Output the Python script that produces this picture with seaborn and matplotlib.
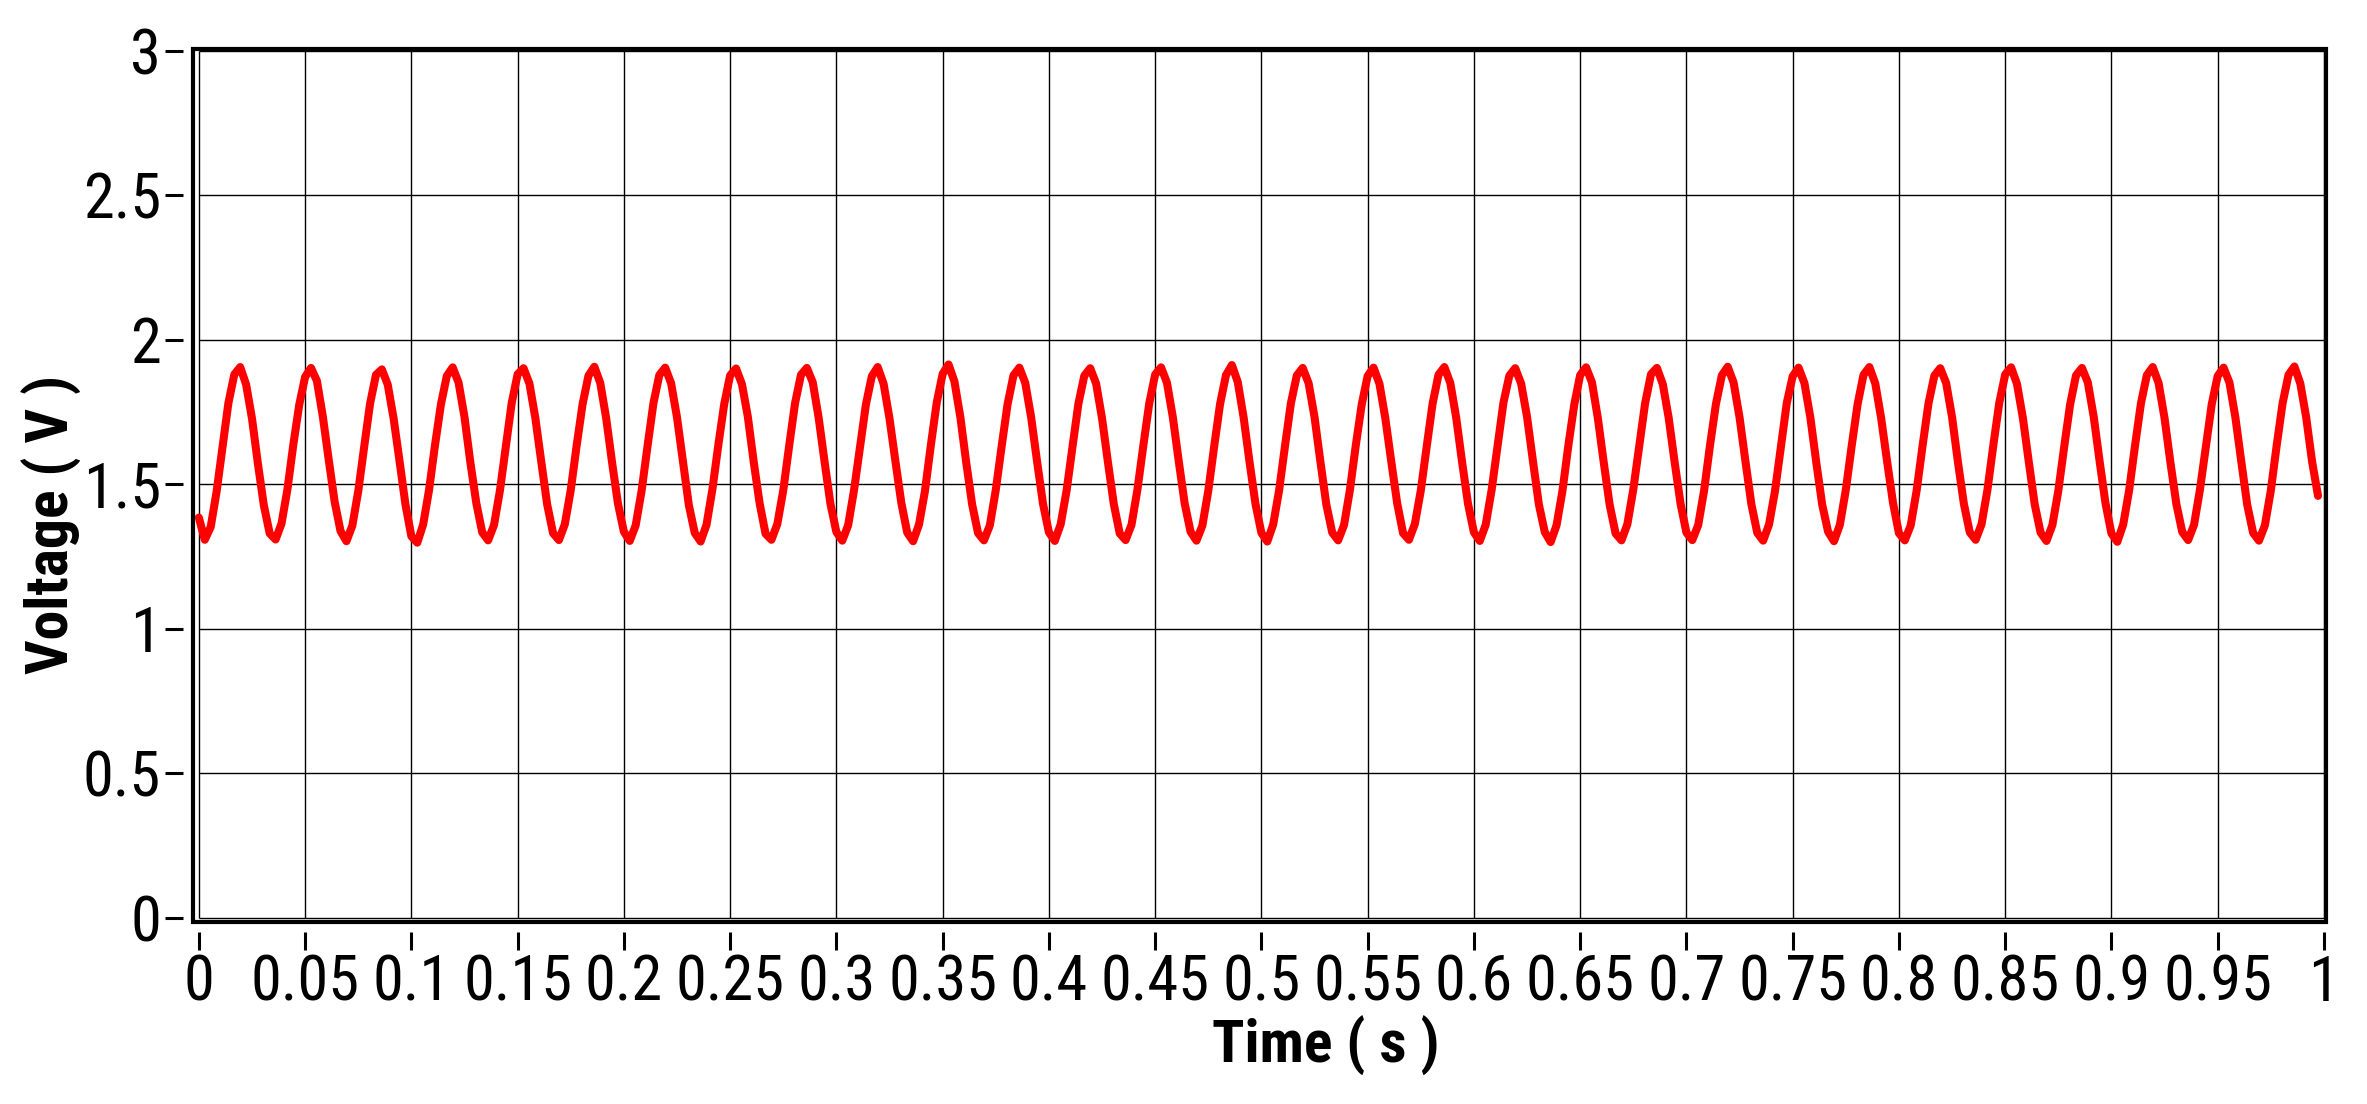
import matplotlib
matplotlib.use("Agg")
import matplotlib.pyplot as plt
from matplotlib import font_manager
from matplotlib.patches import Rectangle
import seaborn as sns
import numpy as np

# sampled voltage trace, 360 samples per second (12 per cycle of the ~30 Hz wave)
sample_rate = 360
voltage = [
    1.385, 1.308, 1.352, 1.474, 1.628, 1.781, 1.880, 1.906, 1.846, 1.728, 1.572, 1.428,
    1.330, 1.309, 1.364, 1.482, 1.637, 1.775, 1.872, 1.903, 1.858, 1.735, 1.585, 1.440,
    1.338, 1.303, 1.357, 1.476, 1.629, 1.779, 1.879, 1.898, 1.845, 1.727, 1.580, 1.430,
    1.320, 1.298, 1.361, 1.481, 1.635, 1.776, 1.875, 1.905, 1.852, 1.733, 1.575, 1.435,
    1.334, 1.306, 1.359, 1.478, 1.630, 1.782, 1.881, 1.902, 1.849, 1.730, 1.579, 1.431,
    1.331, 1.307, 1.362, 1.480, 1.634, 1.777, 1.876, 1.907, 1.851, 1.729, 1.576, 1.433,
    1.336, 1.304, 1.358, 1.477, 1.631, 1.780, 1.878, 1.904, 1.850, 1.732, 1.581, 1.429,
    1.332, 1.302, 1.360, 1.483, 1.636, 1.778, 1.877, 1.901, 1.847, 1.734, 1.577, 1.434,
    1.329, 1.308, 1.363, 1.479, 1.633, 1.781, 1.879, 1.903, 1.853, 1.730, 1.578, 1.432,
    1.335, 1.305, 1.359, 1.481, 1.629, 1.776, 1.874, 1.906, 1.848, 1.728, 1.580, 1.436,
    1.333, 1.303, 1.361, 1.476, 1.635, 1.783, 1.882, 1.915, 1.856, 1.733, 1.575, 1.430,
    1.331, 1.306, 1.358, 1.480, 1.632, 1.777, 1.877, 1.904, 1.851, 1.731, 1.579, 1.433,
    1.334, 1.304, 1.362, 1.478, 1.630, 1.779, 1.876, 1.902, 1.849, 1.729, 1.577, 1.431,
    1.330, 1.307, 1.360, 1.482, 1.634, 1.780, 1.880, 1.905, 1.852, 1.732, 1.580, 1.434,
    1.336, 1.305, 1.357, 1.477, 1.631, 1.778, 1.878, 1.913, 1.854, 1.730, 1.576, 1.432,
    1.332, 1.302, 1.361, 1.479, 1.633, 1.781, 1.877, 1.903, 1.850, 1.733, 1.578, 1.430,
    1.333, 1.306, 1.359, 1.481, 1.636, 1.777, 1.875, 1.904, 1.848, 1.728, 1.579, 1.435,
    1.331, 1.308, 1.363, 1.478, 1.630, 1.779, 1.879, 1.906, 1.851, 1.731, 1.577, 1.433,
    1.334, 1.304, 1.360, 1.480, 1.632, 1.782, 1.876, 1.902, 1.849, 1.734, 1.581, 1.431,
    1.335, 1.300, 1.358, 1.477, 1.634, 1.776, 1.878, 1.905, 1.853, 1.729, 1.575, 1.429,
    1.330, 1.306, 1.362, 1.482, 1.631, 1.780, 1.881, 1.903, 1.847, 1.730, 1.578, 1.434,
    1.333, 1.307, 1.359, 1.479, 1.635, 1.778, 1.877, 1.907, 1.852, 1.732, 1.580, 1.432,
    1.332, 1.305, 1.361, 1.476, 1.629, 1.781, 1.874, 1.904, 1.850, 1.731, 1.576, 1.430,
    1.336, 1.303, 1.360, 1.480, 1.633, 1.777, 1.879, 1.906, 1.849, 1.728, 1.579, 1.436,
    1.331, 1.306, 1.358, 1.478, 1.632, 1.779, 1.876, 1.902, 1.851, 1.733, 1.577, 1.433,
    1.334, 1.308, 1.362, 1.481, 1.636, 1.782, 1.880, 1.905, 1.848, 1.730, 1.578, 1.431,
    1.333, 1.304, 1.359, 1.477, 1.630, 1.776, 1.877, 1.903, 1.853, 1.734, 1.580, 1.434,
    1.330, 1.301, 1.361, 1.479, 1.634, 1.780, 1.878, 1.906, 1.850, 1.729, 1.575, 1.432,
    1.335, 1.307, 1.360, 1.482, 1.631, 1.778, 1.875, 1.904, 1.852, 1.732, 1.579, 1.430,
    1.332, 1.305, 1.358, 1.478, 1.635, 1.781, 1.879, 1.908, 1.849, 1.731, 1.578, 1.460,
]
time = np.arange(len(voltage)) / sample_rate

x_ticks = [0, 0.05, 0.1, 0.15, 0.2, 0.25, 0.3, 0.35, 0.4, 0.45, 0.5, 0.55, 0.6, 0.65,
           0.7, 0.75, 0.8, 0.85, 0.9, 0.95, 1]
y_ticks = [0, 0.5, 1, 1.5, 2, 2.5, 3]

sns.set_style("white")

# a narrow face looks closest to the original; fall back to Liberation Sans at a smaller size
installed = {f.name for f in font_manager.fontManager.ttflist}
narrow = [n for n in ['Liberation Sans Narrow', 'Arial Narrow', 'Roboto Condensed'] if n in installed]
if narrow:
    plt.rcParams['font.family'] = [narrow[0], 'DejaVu Sans']
    tick_size, label_size = 45, 43
else:
    plt.rcParams['font.family'] = ['Liberation Sans', 'DejaVu Sans']
    tick_size, label_size = 34, 37

fig = plt.figure(figsize=(23.67, 11.04), dpi=100)
ax = fig.add_axes([0.0815, 0.1649, 0.9012, 0.7907])

# grid only spans the tick range
ax.vlines(x_ticks, 0, 3, color='black', lw=1.0, zorder=1)
ax.hlines(y_ticks, 0, 1, color='black', lw=1.0, zorder=1)

sns.lineplot(x=time, y=voltage, ax=ax, color='#ff0000', lw=5.8, zorder=3,
             solid_joinstyle='round', solid_capstyle='round')

ax.set_xlim(-0.0028, 1.001)
ax.set_ylim(-0.015, 3.007)
ax.set_xticks(x_ticks)
ax.set_xticklabels(["%g" % v for v in x_ticks])
ax.set_yticks(y_ticks)
ax.set_yticklabels(["%g" % v for v in y_ticks])

# ticks sit a little away from the frame
for side in ['left', 'bottom']:
    ax.spines[side].set_position(('outward', 7))
for s in ax.spines.values():
    s.set_visible(False)
ax.add_patch(Rectangle((0, 0), 1, 1, transform=ax.transAxes, fill=False,
                       ec='black', lw=3, clip_on=False, zorder=5))

ax.tick_params(axis='both', which='major', direction='out', length=13, width=2.2,
               color='black', labelcolor='black', labelsize=tick_size, pad=3,
               left=True, bottom=True)

ax.set_xlabel("Time ( s )", fontsize=label_size, fontweight='bold', color='black')
ax.set_ylabel("Voltage ( V )", fontsize=label_size, fontweight='bold', color='black')
ax.xaxis.set_label_coords(0.531, -0.108)
ax.yaxis.set_label_coords(-0.052, 0.455)

fig.savefig("out.png", dpi=100)
